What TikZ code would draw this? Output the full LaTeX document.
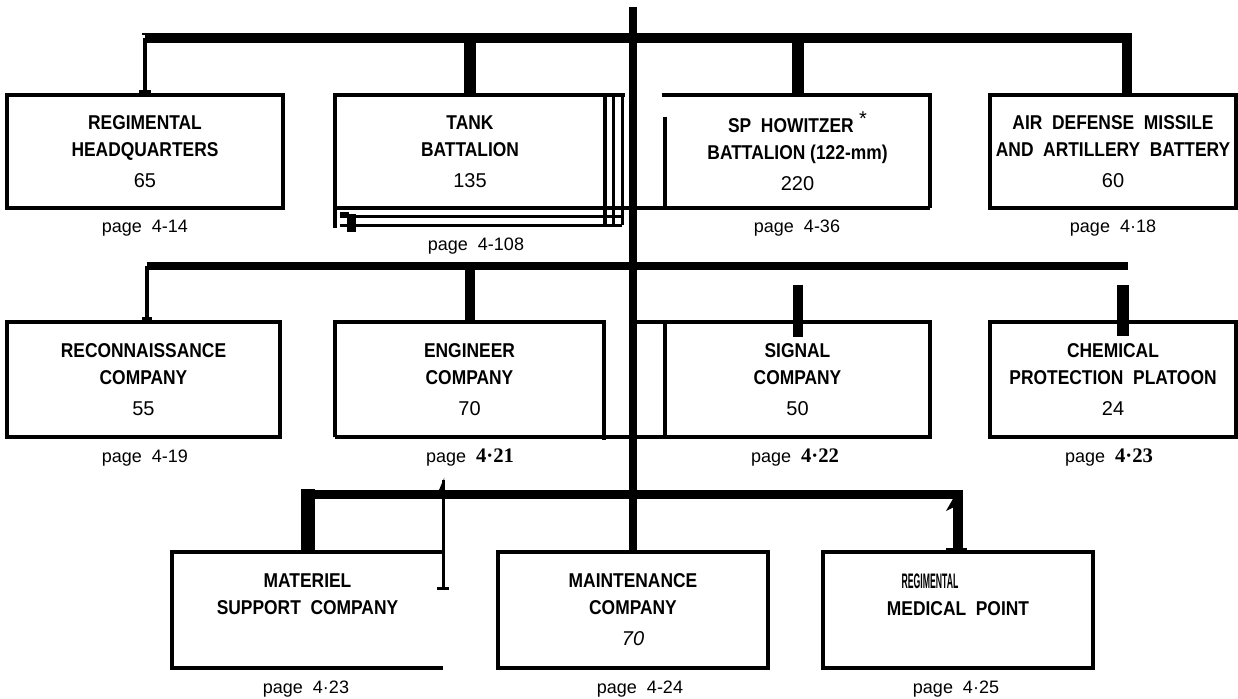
\documentclass[tikz,border=0pt]{standalone}
\usepackage{fontspec}
\usepackage{graphicx}
\setmainfont{Liberation Sans}
\newfontfamily\condfam[FakeStretch=0.87]{Liberation Sans}
\newfontfamily\serifbold{Liberation Serif}
\usetikzlibrary{calc}
\newcommand\cnum[1]{{\normalfont #1}}
\newcommand\bnum[1]{{\serifbold\bfseries\fontsize{15.5}{18}\selectfont #1}}
\begin{document}
\begin{tikzpicture}[x=0.75pt,y=-0.75pt,
  bord/.style={line width=3pt},
  fine/.style={line width=2pt},
  barline/.style={line width=#1},
  ttl/.style={font=\condfam\bfseries\fontsize{15}{20.25}\selectfont,align=center,inner sep=0pt},
  bx/.style 2 args={minimum width=#1*0.75pt,minimum height=#2*0.75pt},
  pg/.style={font=\fontsize{13.5}{16}\selectfont,inner sep=0pt,anchor=base},
]
\fill[white] (0,0) rectangle (1238,699);
\useasboundingbox (0,0) rectangle (1238,699);

% ---------- boxes ----------
\node[ttl,bx={276}{113}] (hq) at (145,151.5) {REGIMENTAL\\HEADQUARTERS\\[3pt]\cnum{65}};
\node[ttl,bx={270}{113}] (tank) at (470,151.5) {TANK\\BATTALION\\[3pt]\cnum{135}};
\node[ttl,bx={265}{113}] (sp) at (797.5,151.5) {SP~~HOWITZER\hspace{4pt}\raisebox{5pt}{\cnum{*}}\\BATTALION~(122-mm)\\[3pt]\cnum{220}};
\node[ttl,bx={246}{113}] (ad) at (1113,151.5) {AIR~~DEFENSE~~MISSILE\\AND~~ARTILLERY~~BATTERY\\[3pt]\cnum{60}};

\node[ttl,bx={273}{115}] (recon) at (143.5,379.5) {RECONNAISSANCE\\COMPANY\\[3pt]\cnum{55}};
\node[ttl,bx={269}{115}] (eng) at (469.5,379.5) {ENGINEER\\COMPANY\\[3pt]\cnum{70}};
\node[ttl,bx={265}{115}] (sig) at (797.5,379.5) {SIGNAL\\COMPANY\\[3pt]\cnum{50}};
\node[ttl,bx={246}{115}] (chem) at (1113,379.5) {CHEMICAL\\PROTECTION~~PLATOON\\[3pt]\cnum{24}};

\node[ttl,bx={271}{116}] (mat) at (307.5,610) {MATERIEL\\SUPPORT~~COMPANY\\[3pt]\cnum{\phantom{70}}};
\node[ttl,bx={270}{116}] (maint) at (633,610) {MAINTENANCE\\COMPANY\\[3pt]{\normalfont\itshape 70}};
\node[ttl,bx={270}{116}] (med) at (958,610) {\makebox[0pt][l]{\hspace{11pt}\scalebox{0.5}[1.05]{REGIMENTAL}}\phantom{MEDICAL~~POINT}\\MEDICAL~~POINT\\[3pt]\cnum{\phantom{70}}};

% ---------- bar end coordinates ----------
\coordinate (top) at (633,7);
\coordinate (b1l) at (145,38);
\coordinate (b1r) at (1127,38);
\coordinate (b2l) at (147,266);
\coordinate (b2r) at (1128,266);
\coordinate (b3l) at (300.5,494);
\coordinate (b3r) at (963,494);

% ---------- box outlines ----------
\draw[bord] (hq.north west) rectangle (hq.south east);
% tank battalion with triple edge
\draw[bord] (tank.south west) -- (tank.north west) -- ($(tank.north east)+(20,0)$);
\draw[bord] (tank.north east) -- ($(tank.south east)+(0,17)$);
\draw[fine] ($(tank.north east)+(8,0)$) -- ($(tank.south east)+(8,17)$);
\draw[fine] ($(tank.north east)+(17,0)$) -- ($(tank.south east)+(17,17)$);
\draw[bord] (tank.south west) -- (sp.south east);
\draw[fine] ($(tank.south west)+(5,8)$) -- ($(tank.south east)+(17,8)$);
\draw[fine] ($(tank.south west)+(5,17)$) -- ($(tank.south east)+(17,17)$);
\draw[bord] (tank.south west) -- ($(tank.south west)+(0,20)$);
\fill ($(tank.south west)+(5,4)$) rectangle ($(tank.south west)+(14,10)$);
\fill ($(tank.south west)+(12,6)$) rectangle ($(tank.south west)+(21,24)$);
% SP howitzer
\draw[bord] ($(sp.north west)+(-3,0)$) -- (sp.north east) -- (sp.south east);
\draw[bord] ($(sp.north west)+(0,22)$) -- ($(sp.south west)+(0,2)$);
\draw[bord] (ad.north west) rectangle (ad.south east);

\draw[bord] (recon.north west) rectangle (recon.south east);
\draw[bord] (eng.south west) -- (eng.north west) -- (eng.north east) -- ($(eng.south east)+(0,3)$);
\draw[bord] (eng.south west) -- (sig.south east) -- (sig.north east) -- (top |- sig.north);
\draw[bord] (sig.north west) -- (sig.south west);
\draw[bord] (chem.north west) rectangle (chem.south east);

\draw[bord] (mat.north east) -- (mat.north west) -- (mat.south west) -- (mat.south east);
\draw[bord] (maint.north west) rectangle (maint.south east);
\draw[bord] (med.north west) rectangle (med.south east);

% ---------- connectors ----------
\draw[barline=5.5pt] (top) -- (maint.north);

\draw[barline=7.5pt] (b1l) -- (b1r) -- (b1r |- ad.north);
\draw[barline=3pt] (b1l) -- (b1l |- hq.north);
\draw[barline=2pt] ($(b1l |- hq.north)+(-6,-3)$) -- ($(b1l |- hq.north)+(6,-3)$);
\draw[barline=2pt] ($(b1l)+(-3,-4)$) -- ($(b1l)+(3,-4)$);
\draw[barline=9pt] (tank.north |- b1l) -- (tank.north);
\draw[barline=9pt] (sp.north |- b1l) -- (sp.north);

\draw[barline=6pt] (b2l) -- (b2r);
\draw[barline=3pt] (b2l) -- (b2l |- recon.north);
\draw[barline=2pt] ($(b2l |- recon.north)+(-5,-3)$) -- ($(b2l |- recon.north)+(5,-3)$);
\draw[barline=7.5pt] (eng.north |- b2l) -- (eng.north);
\draw[barline=7.5pt] ($(sig.north)+(0,-37)$) -- ($(sig.north)+(0,15)$);
\draw[barline=9pt] ($(chem.north)+(10,-37)$) -- ($(chem.north)+(10,14)$);

\draw[barline=6.75pt] (b3l) -- (b3r);
\draw[barline=10.5pt] ($(mat.north |- b3l)+(0,-5)$) -- (mat.north);
\draw[barline=7pt] (med.north |- b3r) -- (med.north);
\draw[barline=2.5pt] ($(med.north)+(-12,-2)$) -- ($(med.north)+(9,-2)$);
\fill ($(med.north |- b3r)+(-4,3)$) -- ++(-8,14) -- ++(8,-4) -- cycle;
\draw[barline=2.25pt] ($(mat.north east)+(0,-72)$) -- ($(mat.north east)+(0,37)$);
\fill ($(mat.north east)+(1,-74)$) -- ++(-6,14) -- ++(5,-2) -- cycle;
\draw[barline=2pt] ($(mat.north east)+(-6,37)$) -- ($(mat.north east)+(6,37)$);

% ---------- page references ----------
\node[pg] (p1) at (145,232) {page~~4-14};
\node[pg] (p2) at (476,250) {page~~4-108};
\node[pg] (p3) at (797,232) {page~~4-36};
\node[pg] (p4) at (1113,232) {page~~4·18};
\node[pg] (p5) at (145,462) {page~~4-19};
\node[pg] (p6) at (470,462) {page~~\bnum{4·21}};
\node[pg] (p7) at (795,462) {page~~\bnum{4·22}};
\node[pg] (p8) at (1109,462) {page~~\bnum{4·23}};
\node[pg] (p9) at (306,693) {page~~4·23};
\node[pg] (p10) at (640,693) {page~~4-24};
\node[pg] (p11) at (956,693) {page~~4·25};
\end{tikzpicture}
\end{document}
